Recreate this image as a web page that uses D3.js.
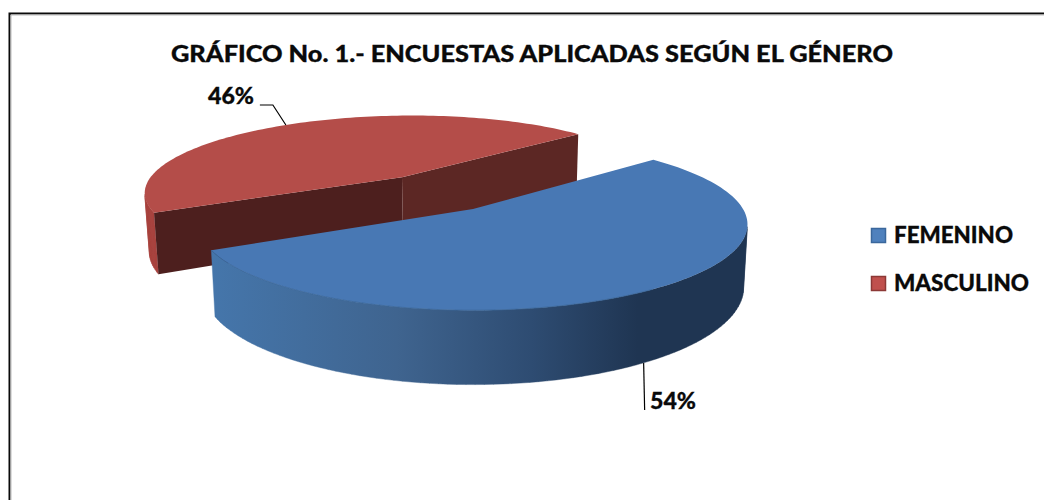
<!DOCTYPE html>
<html>
<head>
<meta charset="utf-8">
<script src="https://cdnjs.cloudflare.com/ajax/libs/d3/7.8.5/d3.min.js"></script>
<style>
  html, body { margin: 0; padding: 0; background: #fff; }
  text { font-family: Lato, Carlito, sans-serif; font-weight: 900; fill: #0a0a0a; stroke: #0a0a0a; stroke-width: 0.3px; }
</style>
</head>
<body>
<div id="chart"></div>
<script>
var generos = ['FEMENINO', 'MASCULINO'];
var porcentajes = [54, 46];
var titulo = 'GRÁFICO No. 1.- ENCUESTAS APLICADAS SEGÚN EL GÉNERO';

var width = 1044, height = 500;

var svg = d3.select('#chart').append('svg')
    .attr('width', width)
    .attr('height', height);

// marco: only top and left edges are in the picture
svg.append('path')
    .attr('d', 'M9.5,500V13.5H1044')
    .attr('fill', 'none')
    .attr('stroke', '#0a0a0a')
    .attr('stroke-width', 2);
svg.append('path')
    .attr('d', 'M11,500V15H1044')
    .attr('fill', 'none')
    .attr('stroke', '#bbb')
    .attr('stroke-width', 1);

svg.append('text')
    .attr('x', 171).attr('y', 62)
    .attr('font-size', 23)
    .attr('textLength', 722)
    .attr('lengthAdjust', 'spacingAndGlyphs')
    .text(titulo);

// pseudo 3D: disk on a plane seen in perspective
var cx = 473, cy = 209, rx = 270, ry = 83, persp = 0.18;
var depth = 61, shrink = 0.014;
var explode = 0.5;

function place(u, v, bottom) {
    var s = 1 / (1 - persp * v);
    var x = rx * u * s;
    var y = cy + ry * v * s;
    if (bottom) {
        x = x * (1 - shrink);
        y = y + depth * s;
    }
    return [cx + x, y];
}

// only the back slice is moved, the front one sits on the plane origin
function apex(d, bottom) {
    var mid = (d.startAngle + d.endAngle) / 2;
    var off = d.index === 1 ? explode : 0;
    return place(off * Math.sin(mid), -off * Math.cos(mid), bottom);
}

function project(d, angle, bottom) {
    var mid = (d.startAngle + d.endAngle) / 2;
    var off = d.index === 1 ? explode : 0;
    return place(Math.sin(angle) + off * Math.sin(mid), -Math.cos(angle) - off * Math.cos(mid), bottom);
}

function arcPoints(d, bottom) {
    var n = 120;
    return d3.range(n + 1).map(function (i) {
        return project(d, d.startAngle + (d.endAngle - d.startAngle) * i / n, bottom);
    });
}

// the rim as quads, keeping those that face the viewer
function rimPath(top, low) {
    var p = d3.path();
    for (var i = 0; i < top.length - 1; i++) {
        var quad = [top[i], top[i + 1], low[i + 1], low[i]];
        if (d3.polygonArea(quad) < 0) continue;
        p.moveTo(quad[0][0], quad[0][1]);
        p.lineTo(quad[1][0], quad[1][1]);
        p.lineTo(quad[2][0], quad[2][1]);
        p.lineTo(quad[3][0], quad[3][1]);
        p.closePath();
    }
    return p.toString();
}

var line = d3.line();

var start = 48.4 * Math.PI / 180;
var pie = d3.pie().sort(null).startAngle(start).endAngle(start + 2 * Math.PI);
var slices = pie(porcentajes);

var defs = svg.append('defs');
var grad = defs.append('linearGradient')
    .attr('id', 'ladoAzul')
    .attr('gradientUnits', 'userSpaceOnUse')
    .attr('x1', 210).attr('x2', 745).attr('y1', 0).attr('y2', 0);
grad.append('stop').attr('offset', '0').attr('stop-color', '#4576ab');
grad.append('stop').attr('offset', '0.35').attr('stop-color', '#3f648f');
grad.append('stop').attr('offset', '0.6').attr('stop-color', '#2e4c72');
grad.append('stop').attr('offset', '0.8').attr('stop-color', '#1f3552');
grad.append('stop').attr('offset', '1').attr('stop-color', '#1f3552');

var colores = ['#4878b4', '#b44d49'];
var lados = ['url(#ladoAzul)', '#a8433f'];

// back slice first
[slices[1], slices[0]].forEach(function (d) {
    var g = svg.append('g');

    var top = arcPoints(d, false);
    var low = arcPoints(d, true);

    g.append('path')
        .attr('d', rimPath(top, low))
        .attr('fill', lados[d.index])
        .attr('stroke', lados[d.index])
        .attr('stroke-width', 0.4);

    if (d.index === 1) {
        // cut faces of the red slice
        g.append('path')
            .attr('d', line([apex(d), top[0], low[0], apex(d, true)]) + 'Z')
            .attr('fill', '#4d1f1e');
        g.append('path')
            .attr('d', line([apex(d), top[top.length - 1], low[low.length - 1], apex(d, true)]) + 'Z')
            .attr('fill', '#5c2724');
    }

    g.append('path')
        .attr('d', line([apex(d)].concat(top)) + 'Z')
        .attr('fill', colores[d.index]);

    if (d.index === 0) {
        g.append('path')
            .attr('d', line(top.slice(60)))
            .attr('fill', 'none')
            .attr('stroke', '#3a6698')
            .attr('stroke-width', 0.8);
    }
});

// etiquetas
var mitadFem = (slices[0].startAngle + slices[0].endAngle) / 2;
var mitadMas = (slices[1].startAngle + slices[1].endAngle) / 2;
var a0 = project(slices[0], mitadFem, true);
var a1 = project(slices[1], mitadMas, false);

svg.append('path')
    .attr('d', line([[a0[0] - 6, a0[1] + 2], [a0[0] - 5, a0[1] + 49]]))
    .attr('fill', 'none').attr('stroke', '#000').attr('stroke-width', 1.2);
svg.append('path')
    .attr('d', line([a1, [a1[0] - 13, a1[1] - 20], [a1[0] - 26, a1[1] - 20]]))
    .attr('fill', 'none').attr('stroke', '#000').attr('stroke-width', 1.2);

svg.append('text')
    .attr('x', 650).attr('y', 409)
    .attr('font-size', 23)
    .attr('textLength', 46)
    .attr('lengthAdjust', 'spacingAndGlyphs')
    .text(porcentajes[0] + '%');
svg.append('text')
    .attr('x', 208).attr('y', 104)
    .attr('font-size', 23)
    .attr('textLength', 46)
    .attr('lengthAdjust', 'spacingAndGlyphs')
    .text(porcentajes[1] + '%');

// leyenda
var legendFill = ['#4f81bd', '#c0504d'];
var legendLine = ['#3a679c', '#8c3836'];
var legendW = [119, 135];
var legend = svg.selectAll('g.leyenda')
    .data(generos)
    .enter().append('g')
    .attr('class', 'leyenda')
    .attr('transform', function (d, i) { return 'translate(871,' + (228 + i * 48) + ')'; });
legend.append('rect')
    .attr('x', 0.5).attr('y', 0.5)
    .attr('width', 14).attr('height', 14)
    .attr('fill', function (d, i) { return legendFill[i]; })
    .attr('stroke', function (d, i) { return legendLine[i]; })
    .attr('stroke-width', 1.5);
legend.append('text')
    .attr('x', 23).attr('y', 15)
    .attr('font-size', 23)
    .attr('textLength', function (d, i) { return legendW[i]; })
    .attr('lengthAdjust', 'spacingAndGlyphs')
    .text(function (d) { return d; });
</script>
</body>
</html>
